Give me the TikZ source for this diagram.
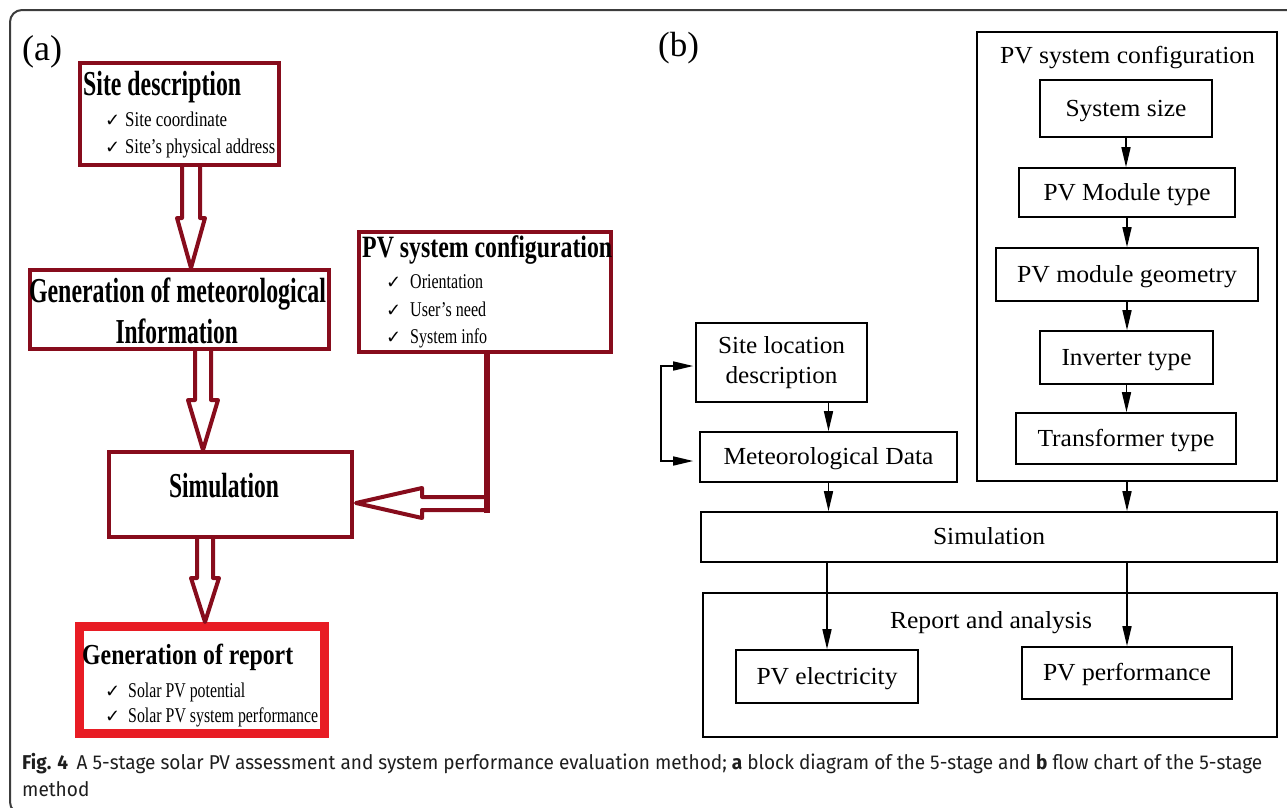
\documentclass[tikz,border=0pt]{standalone}
\usepackage{fontspec}
\usepackage{graphicx}
\setmainfont{Liberation Serif}
\newfontfamily\capfont{Fira Sans}
\newfontfamily\ckfont{DejaVu Sans}
\usetikzlibrary{arrows.meta,calc}
\definecolor{dred}{RGB}{135,12,28}
\definecolor{bred}{RGB}{232,28,36}
\definecolor{framec}{RGB}{60,60,60}
\definecolor{captxt}{RGB}{30,30,30}
\newcommand\fw[2]{\resizebox{#1}{\height}{#2}}
\newcommand\ck{{\ckfont\fontsize{18}{18}\selectfont ✓}}
% hollow down arrow: from, to, x, shaft half, head half, head length
\newcommand\hdown[6]{%
  \draw[harrow] let \p1=(#1), \p2=(#2) in
    (#3pt-#4pt,\y1) -- (#3pt-#4pt,\y2+#6pt) -- (#3pt-#5pt,\y2+#6pt) -- (#3pt,\y2)
    -- (#3pt+#5pt,\y2+#6pt) -- (#3pt+#4pt,\y2+#6pt) -- (#3pt+#4pt,\y1);}
\begin{document}
\begin{tikzpicture}[x=1pt,y=-1pt,
  abox/.style={draw=dred, line width=4pt, inner sep=0pt},
  atitle/.style={anchor=base west, inner sep=0pt, font=\fontsize{35}{35}\selectfont\bfseries},
  aitem/.style={anchor=base west, inner sep=0pt, font=\fontsize{21}{21}\selectfont},
  ack/.style={anchor=base west, inner sep=0pt},
  harrow/.style={draw=dred, line width=4pt, line join=round},
  bbox/.style={draw=black, line width=1.6pt, inner sep=0pt, align=center,
    font=\fontsize{24.5}{30}\selectfont, text height=20pt, text depth=5pt},
  btitle/.style={anchor=base, inner sep=0pt, font=\fontsize{24.5}{30}\selectfont},
  barrow/.style={line width=1.6pt, -{Triangle[length=20pt,width=9pt]}}]
\useasboundingbox (0,0) rectangle (1287,807);
% outer frame
\draw[framec, line width=2pt, rounded corners=12pt] (1300,10) -- (10,10) -- (10,814) -- (1300,814);
% ---------------- panel (a)
\node[anchor=base west, inner sep=0pt, font=\fontsize{36}{36}\selectfont] (labA) at (22,60) {(a)};
\node[abox, minimum width=198.5pt, minimum height=102pt] (siteA) at (179.25,114) {};
\node[atitle] (siteT) at (83,95) {\fw{158pt}{Site description}};
\node[ack] (sck1) at (105,126) {\ck};
\node[aitem] (si1) at (125,126) {\fw{102pt}{Site coordinate}};
\node[ack] (sck2) at (105,153) {\ck};
\node[aitem] (si2) at (125,153) {\fw{150pt}{Site’s physical address}};

\node[abox, minimum width=299pt, minimum height=79pt] (genA) at (179.5,309.5) {};
\node[atitle, anchor=base] (genT1) at (177.5,302) {\fw{297pt}{Generation of meteorological}};
\node[atitle, anchor=base] (genT2) at (176.75,343) {\fw{122.5pt}{Information}};

\node[abox, minimum width=243pt, minimum height=85pt] (simA) at (230.5,494.5) {};
\node[atitle, anchor=base] (simAT) at (224,497) {\fw{110pt}{Simulation}};

\node[abox, minimum width=252pt, minimum height=120pt] (pvA) at (485,292) {};
\node[atitle, font=\fontsize{31}{31}\selectfont\bfseries] (pvAT) at (362,257) {\fw{250pt}{PV system configuration}};
\node[ack] (pck1) at (386,288) {\ck};
\node[aitem] (pi1) at (410,288) {\fw{73pt}{Orientation}};
\node[ack] (pck2) at (386,316) {\ck};
\node[aitem] (pi2) at (410,316) {\fw{76pt}{User’s need}};
\node[ack] (pck3) at (386,343) {\ck};
\node[aitem] (pi3) at (410,343) {\fw{77pt}{System info}};

\node[draw=bred, line width=9pt, inner sep=0pt, minimum width=245pt, minimum height=107pt] (repA) at (202,680) {};
\node[atitle, font=\fontsize{29}{29}\selectfont\bfseries] (repAT) at (82,664) {\fw{211pt}{Generation of report}};
\node[ack] (rck1) at (105,697) {\ck};
\node[aitem] (ri1) at (128,697) {\fw{117pt}{Solar PV potential}};
\node[ack] (rck2) at (105,722) {\ck};
\node[aitem] (ri2) at (128,722) {\fw{190pt}{Solar PV system performance}};

\hdown{siteA.south}{genA.north}{191}{9}{14}{50}
\hdown{genA.south}{simA.north}{203}{8}{15}{50}
\hdown{simA.south}{repA.north}{205}{8}{14}{44}
\draw[dred, line width=6pt] let \p1=($(pvA.south)+(2,0)$), \p2=($(simA.east)+(2,8.5)$) in
  (\x1,\y1) -- (\x1,\y2-10pt);
\draw[harrow] let \p1=($(pvA.south)+(2,0)$), \p2=($(simA.east)+(2,8.5)$) in
  (\x1,\y2+6pt) -- (\x2+66pt,\y2+6pt) -- (\x2+66pt,\y2+15pt) -- (\x2,\y2)
  -- (\x2+66pt,\y2-15pt) -- (\x2+66pt,\y2-7pt) -- (\x1,\y2-7pt);
% ---------------- panel (b)
\node[anchor=base west, inner sep=0pt, font=\fontsize{35}{35}\selectfont] (labB) at (658,56) {(b)};
\node[draw=black, line width=1.6pt, minimum width=300pt, minimum height=449pt, inner sep=0pt] (pvB) at (1127,256.5) {};
\node[btitle] (pvBT) at (1127.5,63) {\fw{255pt}{PV system configuration}};
\node[bbox, minimum width=172pt, minimum height=57pt] (size) at (1126,108.5) {\fw{121pt}{System size}};
\node[bbox, minimum width=216pt, minimum height=49pt] (modt) at (1127,192.5) {\fw{167pt}{PV Module type}};
\node[bbox, minimum width=262pt, minimum height=53pt] (geom) at (1127,274.5) {\fw{220pt}{PV module geometry}};
\node[bbox, minimum width=173pt, minimum height=53pt] (inv) at (1126.5,357.5) {\fw{130pt}{Inverter type}};
\node[bbox, minimum width=220pt, minimum height=51pt] (trans) at (1126,438.5) {\fw{177pt}{Transformer type}};
\node[bbox, minimum width=171pt, minimum height=79pt, text height=, text depth=] (site) at (781.5,362.5) {\fw{127pt}{Site location}\\\fw{112pt}{description}};
\node[bbox, minimum width=257pt, minimum height=50pt] (met) at (828.5,457) {\fw{210pt}{Meteorological Data}};
\node[bbox, minimum width=576pt, minimum height=50pt] (simB) at (989,537) {\fw{112pt}{Simulation}};
\node[draw=black, line width=1.6pt, minimum width=574pt, minimum height=144pt, inner sep=0pt] (rep) at (990,665) {};
\node[btitle] (repT) at (991,628) {\fw{202pt}{Report and analysis}};
\node[bbox, minimum width=182pt, minimum height=53pt] (elec) at (827,676.5) {\fw{141pt}{PV electricity}};
\node[bbox, minimum width=210pt, minimum height=52pt] (perf) at (1127,673) {\fw{168pt}{PV performance}};

\draw[barrow] (size.south) -- (size.south |- modt.north);
\draw[barrow] (modt.south) -- (modt.south |- geom.north);
\draw[barrow] (geom.south) -- (geom.south |- inv.north);
\draw[barrow] (inv.south) -- (inv.south |- trans.north);
\draw[barrow] (site.south -| met.north) -- (met.north);
\draw[barrow] (met.south) -- (met.south |- simB.north);
\draw[barrow] (pvB.south) -- (pvB.south |- simB.north);
\draw[barrow] (elec.north |- simB.south) -- (elec.north);
\draw[barrow] (perf.north |- simB.south) -- (perf.north);
\draw[line width=1.6pt, {Triangle[length=20pt,width=9pt]}-{Triangle[length=20pt,width=9pt]}]
  ($(site.west)+(-2,3.5)$) -- ++(-32,0) |- ($(met.west)+(-6,4)$);
% ---------------- caption
\node[anchor=base west, inner sep=0pt, text=captxt] (cap) at (22,769)
  {\resizebox{1240pt}{\height}{\capfont\fontsize{20}{27}\selectfont\begin{tabular}[t]{@{}l@{}}\textbf{Fig. 4}\hspace{9pt}A 5-stage solar PV assessment and system performance evaluation method; \textbf{a} block diagram of the 5-stage and \textbf{b} flow chart of the 5-stage\\method\end{tabular}}};
\end{tikzpicture}
\end{document}
